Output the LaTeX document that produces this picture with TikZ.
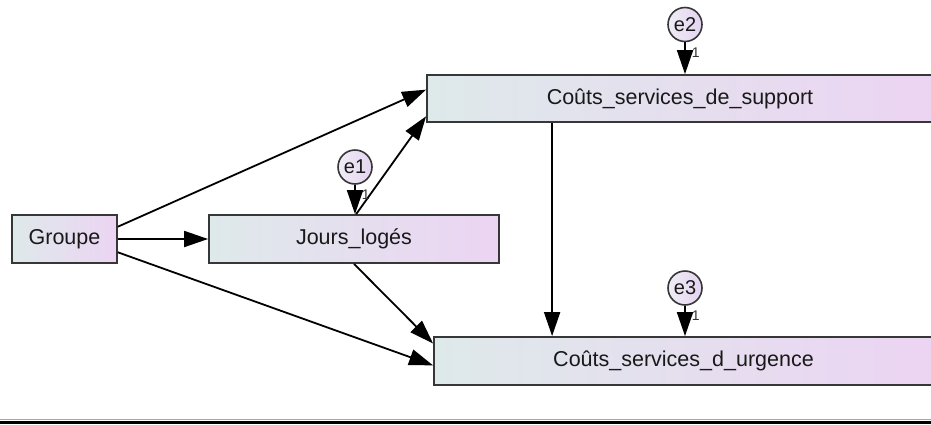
\documentclass[tikz,border=0pt]{standalone}
\usepackage{fontspec}
\setmainfont{Liberation Sans}
\usetikzlibrary{positioning, arrows.meta}
\definecolor{boxleft}{RGB}{222,233,234}
\definecolor{boxright}{RGB}{236,212,243}
\definecolor{errleft}{RGB}{240,236,246}
\definecolor{errright}{RGB}{228,212,240}
\definecolor{edgegray}{RGB}{55,55,55}
\tikzset{var/.style={rectangle, draw=edgegray, line width=1.8pt, left color=boxleft, right color=boxright,
                     text=black!90, font=\fontsize{21.5}{24}\selectfont, inner sep=0pt},
         err/.style={circle, draw=edgegray, line width=1.6pt, left color=errleft, right color=errright,
                     text=black!90, minimum size=34pt, inner sep=0pt, font=\fontsize{20}{22}\selectfont},
         path/.style={line width=1.8pt, -{Triangle[length=24pt, width=16pt]}},
         one/.style={font=\fontsize{14}{15}\selectfont, text=black!80, inner sep=1pt}}

\begin{document}
\begin{tikzpicture}[x=1pt, y=-1pt]
        \useasboundingbox (0,0) rectangle (931,424);
        % Nodes
        \node[var, minimum width=105pt, minimum height=48pt] (groupe) at (64.5,239) {Groupe};
        \node[var, minimum width=290pt, minimum height=48pt] (jours) at (354,239) {Jours\_logés};
        \node[var, minimum width=506pt, minimum height=47pt] (support) at (680,98.5) {Coûts\_services\_de\_support};
        \node[var, minimum width=499pt, minimum height=48pt] (urgence) at (683.5,361) {Coûts\_services\_d\_urgence};
        \node[err] (e1) at (355,167) {e1};
        \node[err] (e2) at (685,24.5) {e2};
        \node[err] (e3) at (685,288) {e3};
        \path (support.south west) ++(126,0) coordinate (s1);

        % Edges
        \draw[path] (groupe.13) -- (support.178);
        \draw[path] (groupe.east) -- (jours.west);
        \draw[path] (groupe.-14) -- (urgence.181);
        \draw[path] (jours.85) -- (support.184);
        \draw[path] (jours.south) -- (urgence.176);
        \draw[path] (s1) -- (s1 |- urgence.north);
        \draw[path] (e1.south) -- node[one, pos=0.1, anchor=north west, xshift=5pt] {1} (e1.south |- jours.north);
        \draw[path] (e2.south) -- node[one, pos=0.1, anchor=north west, xshift=5pt] {1} (e2.south |- support.north);
        \draw[path] (e3.south) -- node[one, pos=0.1, anchor=north west, xshift=5pt] {1} (e3.south |- urgence.north);

        % Rule
        \draw[gray!70, line width=1pt] (0,419.5) -- (931,419.5);
        \draw[black, line width=2.5pt] (0,422.5) -- (931,422.5);
    \end{tikzpicture}
\end{document}
